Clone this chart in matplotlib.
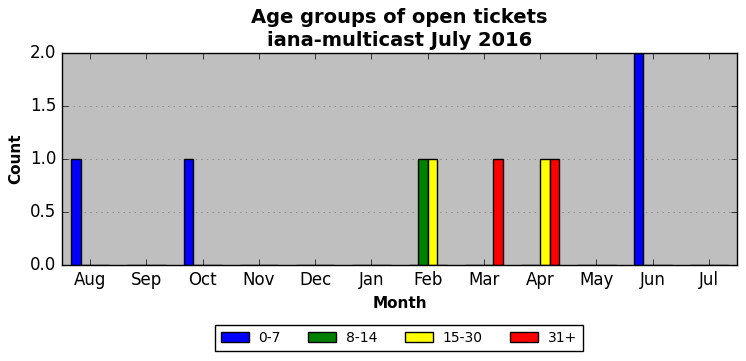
import numpy as np
import matplotlib
matplotlib.use("Agg")
import matplotlib.pyplot as plt

plt.style.use("classic")

months = ["Aug", "Sep", "Oct", "Nov", "Dec", "Jan", "Feb", "Mar", "Apr", "May", "Jun", "Jul"]
age_0_7 = [1, 0, 1, 0, 0, 0, 0, 0, 0, 0, 2, 0]
age_8_14 = [0, 0, 0, 0, 0, 0, 1, 0, 0, 0, 0, 0]
age_15_30 = [0, 0, 0, 0, 0, 0, 1, 0, 1, 0, 0, 0]
age_31 = [0, 0, 0, 0, 0, 0, 0, 1, 1, 0, 0, 0]

series = [("0-7", age_0_7, "blue"), ("8-14", age_8_14, "green"),
          ("15-30", age_15_30, "yellow"), ("31+", age_31, "red")]

fig = plt.figure(figsize=(7.46, 3.61), dpi=100, facecolor="white")
ax = fig.add_axes([62 / 746, 1 - 265 / 361, 675 / 746, 212 / 361])
ax.set_facecolor("0.75")

x = np.arange(len(months))
w = 0.17
for i, (name, vals, col) in enumerate(series):
    ax.bar(x + (i - 2) * w, vals, w, align="edge", color=col, edgecolor="black",
           linewidth=1, label=name)

ax.set_xlim(-0.5, 11.5)
ax.set_ylim(0, 2)
ax.set_xticks(x)
ax.set_xticklabels(months)
ax.set_yticks([0, 0.5, 1.0, 1.5, 2.0])
ax.tick_params(labelsize=12)
ax.grid(True, axis="y", linestyle=":", color="0.45")
ax.set_axisbelow(True)
ax.set_xlabel("Month", fontsize=11, fontweight="bold")
ax.set_ylabel("Count", fontsize=11, fontweight="bold")
ax.set_title("Age groups of open tickets\niana-multicast July 2016",
             fontsize=14, fontweight="bold", linespacing=1.25)

fig.legend(loc="center", bbox_to_anchor=(399 / 746, 1 - 338 / 361), ncol=4,
           fontsize=10, frameon=True, fancybox=False, handlelength=2.0,
           handleheight=0.7, handletextpad=0.7, columnspacing=2.0, borderpad=0.4)

fig.savefig("out.png", dpi=100, facecolor="white")
